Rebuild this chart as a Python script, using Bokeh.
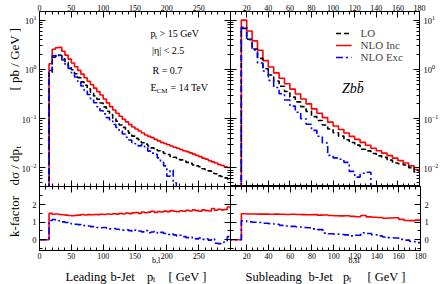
import numpy as np
from bokeh.plotting import figure
from bokeh.models import (Range1d, LinearAxis, LogAxis, LogTicker, FixedTicker,
                          Label, Legend, LegendItem)
from bokeh.layouts import column, row
from bokeh.embed import file_html
from bokeh.resources import INLINE

SERIF = "Liberation Serif"

# ---------------- data (5 GeV bins starting at the 15 GeV cut) ----------------
BIN_START = 15
BIN_WIDTH = 5

# Leading b-jet, bins 15-20 ... 295-300 GeV  [pb/GeV]
LEAD_LO = [0.87, 1.77, 1.87, 1.94, 1.65, 1.39, 1.17, 0.985, 0.817, 0.682,
           0.558, 0.479, 0.402, 0.345, 0.290, 0.248, 0.208, 0.174, 0.142, 0.121,
           0.101, 0.0884, 0.0747, 0.0665, 0.0566, 0.0509, 0.0442, 0.0398, 0.0375, 0.0325,
           0.0304, 0.0278, 0.0255, 0.0244, 0.0224, 0.0212, 0.0196, 0.0188, 0.0172, 0.0165,
           0.0158, 0.0146, 0.0140, 0.0130, 0.0124, 0.0115, 0.0110, 0.0106, 0.0096, 0.0092,
           0.0087, 0.0078, 0.0076, 0.0069, 0.0067, 0.0063, 0.0060]
LEAD_NLO_INC = [1.30, 2.57, 2.75, 2.80, 2.34, 1.95, 1.62, 1.35, 1.135, 0.955,
                0.804, 0.676, 0.575, 0.490, 0.417, 0.355, 0.302, 0.251, 0.209, 0.176,
                0.150, 0.129, 0.112, 0.0977, 0.0861, 0.0759, 0.0676, 0.0617, 0.0562, 0.0513,
                0.0468, 0.0437, 0.0412, 0.0380, 0.0355, 0.0331, 0.0313, 0.0295, 0.0279, 0.0263,
                0.0251, 0.0237, 0.0224, 0.0214, 0.0202, 0.0191, 0.0180, 0.0170, 0.0158, 0.0151,
                0.0141, 0.0133, 0.0126, 0.0117, 0.0112, 0.0105, 0.0102]
LEAD_NLO_EXC = [0.95, 1.90, 2.00, 1.90, 1.55, 1.28, 1.05, 0.86, 0.70, 0.57,
                0.46, 0.38, 0.31, 0.255, 0.21, 0.175, 0.145, 0.125, 0.105, 0.090,
                0.076, 0.066, 0.056, 0.049, 0.042, 0.037, 0.033, 0.031, 0.028, 0.030,
                0.026, 0.022, 0.020, 0.019, 0.016, 0.013, 0.011, 0.0068, 0.0090, 0.0050,
                0, 0, 0, 0, 0, 0, 0, 0, 0, 0,
                0, 0, 0, 0, 0, 0, 0]
LEAD_K_INC = [1.50, 1.45, 1.47, 1.44, 1.42, 1.40, 1.38, 1.37, 1.39, 1.40,
              1.44, 1.41, 1.43, 1.42, 1.44, 1.43, 1.45, 1.44, 1.47, 1.45,
              1.48, 1.46, 1.50, 1.47, 1.52, 1.49, 1.53, 1.55, 1.50, 1.58,
              1.54, 1.57, 1.62, 1.56, 1.60, 1.58, 1.63, 1.60, 1.66, 1.62,
              1.59, 1.65, 1.62, 1.68, 1.64, 1.70, 1.66, 1.62, 1.70, 1.66,
              1.64, 1.78, 1.68, 1.74, 1.70, 1.72, 1.86]
LEAD_K_EXC = [1.10, 1.15, 1.12, 1.08, 1.02, 0.98, 0.93, 0.90, 0.88, 0.86,
              0.84, 0.80, 0.78, 0.75, 0.74, 0.70, 0.68, 0.70, 0.66, 0.62,
              0.64, 0.60, 0.58, 0.55, 0.57, 0.52, 0.48, 0.55, 0.50, 0.45,
              0.52, 0.40, 0.44, 0.48, 0.38, 0.42, 0.36, 0.30, 0.34, 0.28,
              0.22, 0.26, 0.18, 0.12, 0.15, 0.08, 0.05, 0.10, 0.02, 0.06,
              -0.02, 0.05, -0.20, -0.22, -0.15, -0.05, 0.18]

# Subleading b-jet, bins 15-20 ... 175-180 GeV  [pb/GeV]
SUB_LO = [6.8, 4.10, 2.59, 1.68, 1.03, 0.772, 0.583, 0.456, 0.356, 0.274,
          0.219, 0.176, 0.141, 0.110, 0.0921, 0.0745, 0.0617, 0.0517, 0.0443, 0.0374,
          0.0329, 0.0290, 0.0240, 0.0222, 0.0196, 0.0176, 0.0164, 0.0144, 0.0126, 0.0122,
          0.0115, 0.0101, 0.0083]
SUB_NLO_INC = [10.0, 6.03, 3.80, 2.45, 1.51, 1.12, 0.851, 0.661, 0.513, 0.398,
               0.316, 0.251, 0.200, 0.158, 0.129, 0.105, 0.0851, 0.0708, 0.0603, 0.0513,
               0.0437, 0.0380, 0.0331, 0.0288, 0.0251, 0.0224, 0.0200, 0.0178, 0.0158, 0.0141,
               0.0126, 0.0110, 0.0093]
SUB_NLO_EXC = [7.2, 4.0, 2.5, 1.35, 0.93, 0.60, 0.43, 0.32, 0.24, 0.18,
               0.135, 0.10, 0.077, 0.058, 0.044, 0.032, 0.018, 0.016, 0.015, 0.013,
               0.0085, 0.0065, 0.0078, 0.0082, 0, 0, 0, 0, 0, 0,
               0, 0, 0]
SUB_K_INC = [1.48, 1.47, 1.47, 1.46, 1.46, 1.45, 1.46, 1.45, 1.44, 1.45,
             1.44, 1.43, 1.42, 1.43, 1.40, 1.41, 1.38, 1.37, 1.36, 1.37,
             1.33, 1.31, 1.38, 1.30, 1.28, 1.27, 1.22, 1.24, 1.25, 1.16,
             1.10, 1.09, 1.12]
SUB_K_EXC = [1.08, 1.02, 1.00, 0.98, 0.94, 0.92, 0.88, 0.82, 0.78, 0.76,
             0.74, 0.70, 0.68, 0.62, 0.58, 0.38, 0.34, 0.32, 0.30, 0.28,
             0.22, 0.26, 0.40, 0.36, 0.28, 0.22, 0.16, 0.12, 0.10, 0.02,
             -0.02, -0.10, -0.16]

SERIES_LABELS = ["LO", "NLO Inc", "NLO Exc"]
LEAD_X_TICKS = [0, 50, 100, 150, 200, 250]
SUB_X_TICKS = [20, 40, 60, 80, 100, 120, 140, 160, 180]
K_TICKS = [0, 1, 2]

LEAD_XR = (0, 300)
SUB_XR = (5, 180)
TOP_YR = (0.0042, 15.0)
K_YR = (-0.61, 3.03)

# ---------------- layout geometry (page pixels) ----------------
BOX_L, BOX_LW = 39, 191        # left boxes: x 39..230
BOX_R, BOX_RW = 230, 190       # right boxes: x 230..420
RB = 21                        # strip right of the right boxes (tick labels)
TOP_Y, TOP_H = 11, 175         # top boxes: y 11..186
BOT_Y, BOT_H = 186, 64         # bottom boxes: y 186..250
PAGE_H = 284
BELOW_H = PAGE_H - BOT_Y - BOT_H   # title strip under the k-factor boxes

# plot areas also cover the title / label strips around the boxes
LEAD_XR_EXT = (LEAD_XR[0] - BOX_L / BOX_LW * (LEAD_XR[1] - LEAD_XR[0]), LEAD_XR[1])
SUB_XR_EXT = (SUB_XR[0], SUB_XR[1] + RB / BOX_RW * (SUB_XR[1] - SUB_XR[0]))
K_YR_EXT = (K_YR[0] - BELOW_H / BOT_H * (K_YR[1] - K_YR[0]), K_YR[1])

COL_INC, COL_LO, COL_EXC = "#ff0000", "black", "#0000ff"
DASH_LO, DASH_EXC = "5 3", "7 3 2 3"
LW = 1.6

LEAD_MINOR = [10 * i for i in range(31)]
SUB_MINOR = [5 * i for i in range(1, 37)]
LOG_MINOR = [m * 10.0 ** e for e in range(-3, 2) for m in range(2, 10)]
LOG_MAJOR = [0.001, 0.01, 0.1, 1.0, 10.0]
K_MINOR = [-0.5, 0.5, 1.5, 2.5]


def edges_for(n):
    return [0] + [BIN_START + BIN_WIDTH * i for i in range(n + 1)]


def step_y(vals, log):
    ys = [0.0] + list(vals)
    if log:
        ys = [v if v > 0 else 1e-5 for v in ys]
    return ys + [ys[-1]]


def base_fig(width, height, xr, yr, ylog, mb, outline=True):
    p = figure(width=width, height=height, x_range=Range1d(*xr), y_range=Range1d(*yr),
               y_axis_type="log" if ylog else "linear",
               x_axis_location=None, y_axis_location=None,
               toolbar_location=None, output_backend="svg",
               min_border_left=mb[0], min_border_right=mb[1],
               min_border_top=mb[2], min_border_bottom=mb[3])
    p.grid.visible = False
    p.outline_line_color = "black" if outline else None
    p.outline_line_width = 1
    p.background_fill_color = "white"
    p.border_fill_color = "white"
    return p


def style_ticks(ax, bounds, fixed):
    ax.axis_line_color = "black"
    ax.major_tick_line_color = "black"
    ax.minor_tick_line_color = "black"
    ax.major_tick_out = 0
    ax.minor_tick_out = 0
    if bounds is not None:
        ax.bounds = bounds
    if fixed is not None:
        ax.fixed_location = fixed


def labelled_axis(p, side, log, ticker, size, standoff=2, bounds=None, fixed=None):
    ax = (LogAxis if log else LinearAxis)(ticker=ticker)
    style_ticks(ax, bounds, fixed)
    ax.major_tick_in, ax.minor_tick_in = 6, 3
    ax.major_label_text_font = SERIF
    ax.major_label_text_font_size = size
    ax.major_label_standoff = standoff
    ax.major_label_text_color = "black"
    p.add_layout(ax, side)


def bare_axis(p, side, log, majors, minors, bounds=None):
    # tick marks only (no labels) on an inner, shared box edge
    for pos, length in ((minors, 3), (majors, 6)):
        ax = (LogAxis if log else LinearAxis)(ticker=FixedTicker(ticks=[], minor_ticks=pos))
        style_ticks(ax, bounds, None)
        ax.major_tick_in = 0
        ax.minor_tick_in = length
        p.add_layout(ax, side)


def put(p, geom, px, py, s, size, angle=0.0, align="left", baseline="alphabetic",
        style="normal"):
    fx, fy, fw, fh, xr, yr, ylog = geom
    x = xr[0] + (px - fx) / fw * (xr[1] - xr[0])
    t = (fy + fh - py) / fh
    if ylog:
        a, b = np.log10(yr[0]), np.log10(yr[1])
        y = float(10 ** (a + t * (b - a)))
    else:
        y = yr[0] + t * (yr[1] - yr[0])
    p.add_layout(Label(x=x, y=y, text=s, text_font=SERIF, text_font_size=size,
                       text_font_style=style, angle=angle, text_align=align,
                       text_baseline=baseline, text_color="black"))


def draw_top(p, lo, inc, exc):
    e = edges_for(len(inc))
    r_inc = p.step(e, step_y(inc, True), mode="after", line_color=COL_INC, line_width=LW)
    r_lo = p.step(e, step_y(lo, True), mode="after", line_color=COL_LO, line_width=LW,
                  line_dash=DASH_LO)
    r_exc = p.step(e, step_y(exc, True), mode="after", line_color=COL_EXC, line_width=LW,
                   line_dash=DASH_EXC)
    return r_lo, r_inc, r_exc


def draw_k(p, kinc, kexc):
    e = edges_for(len(kinc))
    p.step(e, step_y(kinc, False), mode="after", line_color=COL_INC, line_width=LW)
    p.step(e, step_y(kexc, False), mode="after", line_color=COL_EXC, line_width=LW,
           line_dash=DASH_EXC)


# plot-area geometry of each figure on the page: (left, top, width, height, xr, yr, log)
G1 = (0, TOP_Y, BOX_L + BOX_LW, TOP_H, LEAD_XR_EXT, TOP_YR, True)
G2 = (BOX_R, TOP_Y, BOX_RW, TOP_H, SUB_XR, TOP_YR, True)
G3 = (0, BOT_Y, BOX_L + BOX_LW, BOT_H + BELOW_H, LEAD_XR_EXT, K_YR_EXT, False)
G4 = (BOX_R, BOT_Y, BOX_RW + RB, BOT_H + BELOW_H, SUB_XR_EXT, K_YR_EXT, False)

# ---------------- top-left: leading jet spectrum ----------------
p1 = base_fig(BOX_L + BOX_LW, TOP_Y + TOP_H, LEAD_XR_EXT, TOP_YR, True,
              (0, 0, TOP_Y, 0), outline=False)
labelled_axis(p1, "above", False, FixedTicker(ticks=LEAD_X_TICKS, minor_ticks=LEAD_MINOR),
              "8px", standoff=1, bounds=LEAD_XR)
labelled_axis(p1, "left", True, LogTicker(num_minor_ticks=10), "8.5px", standoff=3,
              fixed=LEAD_XR[0])
bare_axis(p1, "below", False, LEAD_X_TICKS + [300], LEAD_MINOR, bounds=LEAD_XR)
bare_axis(p1, "right", True, LOG_MAJOR, LOG_MINOR)
draw_top(p1, LEAD_LO, LEAD_NLO_INC, LEAD_NLO_EXC)

put(p1, G1, 150, 33, "p", "10px", baseline="middle")
put(p1, G1, 154.5, 36, "t", "7px", baseline="middle")
put(p1, G1, 159, 33, "> 15 GeV", "10px", baseline="middle")
put(p1, G1, 151.5, 50, "|η| < 2.5", "10px", baseline="middle")
put(p1, G1, 152, 70, "R = 0.7", "10px", baseline="middle")
put(p1, G1, 150, 87, "E", "10px", baseline="middle")
put(p1, G1, 156, 90, "CM", "7px", baseline="middle")
put(p1, G1, 170, 87, "= 14 TeV", "10px", baseline="middle")

# rotated y-axis title
put(p1, G1, 14, 185, "dσ / dp", "13px", angle=np.pi / 2)
put(p1, G1, 17, 148, "t", "9px", angle=np.pi / 2)
put(p1, G1, 14, 90, "[ pb / GeV ]", "13px", angle=np.pi / 2)

# ---------------- top-right: subleading jet spectrum ----------------
p2 = base_fig(BOX_RW + RB, TOP_Y + TOP_H, SUB_XR, TOP_YR, True, (0, RB, TOP_Y, 0))
labelled_axis(p2, "above", False, FixedTicker(ticks=SUB_X_TICKS, minor_ticks=SUB_MINOR),
              "8px", standoff=1)
labelled_axis(p2, "right", True, LogTicker(num_minor_ticks=10), "8.5px", standoff=4)
bare_axis(p2, "below", False, SUB_X_TICKS, SUB_MINOR)
bare_axis(p2, "left", True, LOG_MAJOR, LOG_MINOR)
r_lo, r_inc, r_exc = draw_top(p2, SUB_LO, SUB_NLO_INC, SUB_NLO_EXC)

legend = Legend(items=[LegendItem(label=SERIES_LABELS[0], renderers=[r_lo]),
                       LegendItem(label=SERIES_LABELS[1], renderers=[r_inc]),
                       LegendItem(label=SERIES_LABELS[2], renderers=[r_exc])],
                location="top_right", margin=16, padding=0, spacing=0,
                label_text_font=SERIF, label_text_font_size="11px",
                glyph_width=16, glyph_height=12, label_height=12, label_standoff=9,
                border_line_color=None, background_fill_alpha=0)
p2.add_layout(legend)
put(p2, G2, 342, 88, "Zbb\u0304", "14px", baseline="middle", style="italic")

# ---------------- bottom-left: leading k-factor ----------------
p3 = base_fig(BOX_L + BOX_LW, BOT_H + BELOW_H, LEAD_XR_EXT, K_YR_EXT, False,
              (0, 0, 0, 0), outline=False)
labelled_axis(p3, "below", False, FixedTicker(ticks=LEAD_X_TICKS, minor_ticks=LEAD_MINOR),
              "8px", standoff=2, bounds=LEAD_XR, fixed=K_YR[0])
labelled_axis(p3, "left", False, FixedTicker(ticks=K_TICKS, minor_ticks=K_MINOR),
              "8.5px", standoff=3, bounds=K_YR, fixed=LEAD_XR[0])
bare_axis(p3, "above", False, LEAD_X_TICKS + [300], LEAD_MINOR, bounds=LEAD_XR)
bare_axis(p3, "right", False, K_TICKS, K_MINOR, bounds=K_YR)
draw_k(p3, LEAD_K_INC, LEAD_K_EXC)

put(p3, G3, 14, 216, "k-factor", "13px", angle=np.pi / 2, align="center")
put(p3, G3, 65, 276, "Leading", "12.5px")
put(p3, G3, 110, 276, "b-Jet", "12.5px")
put(p3, G3, 146.5, 276, "p", "12.5px")
put(p3, G3, 152.5, 278.5, "t", "8px")
put(p3, G3, 151.5, 259.5, "b,l", "8px")
put(p3, G3, 168, 276, "[ GeV ]", "12.5px")

# ---------------- bottom-right: subleading k-factor ----------------
p4 = base_fig(BOX_RW + RB, BOT_H + BELOW_H, SUB_XR_EXT, K_YR_EXT, False, (0, 0, 0, 0),
              outline=False)
labelled_axis(p4, "below", False, FixedTicker(ticks=SUB_X_TICKS, minor_ticks=SUB_MINOR),
              "8px", standoff=2, bounds=SUB_XR, fixed=K_YR[0])
labelled_axis(p4, "right", False, FixedTicker(ticks=K_TICKS, minor_ticks=K_MINOR),
              "8.5px", standoff=4, bounds=K_YR, fixed=SUB_XR[1])
bare_axis(p4, "above", False, SUB_X_TICKS, SUB_MINOR, bounds=SUB_XR)
bare_axis(p4, "left", False, K_TICKS, K_MINOR, bounds=K_YR)
draw_k(p4, SUB_K_INC, SUB_K_EXC)

put(p4, G4, 245, 276, "Subleading", "12.5px")
put(p4, G4, 308, 276, "b-Jet", "12.5px")
put(p4, G4, 342.5, 276, "p", "12.5px")
put(p4, G4, 348.5, 278.5, "t", "8px")
put(p4, G4, 348, 259.5, "b,sl", "8px")
put(p4, G4, 367, 276, "[ GeV ]", "12.5px")

layout = column(row(p1, p2), row(p3, p4))
open("out.html", "w").write(file_html(layout, INLINE, "Zbb k-factor"))
